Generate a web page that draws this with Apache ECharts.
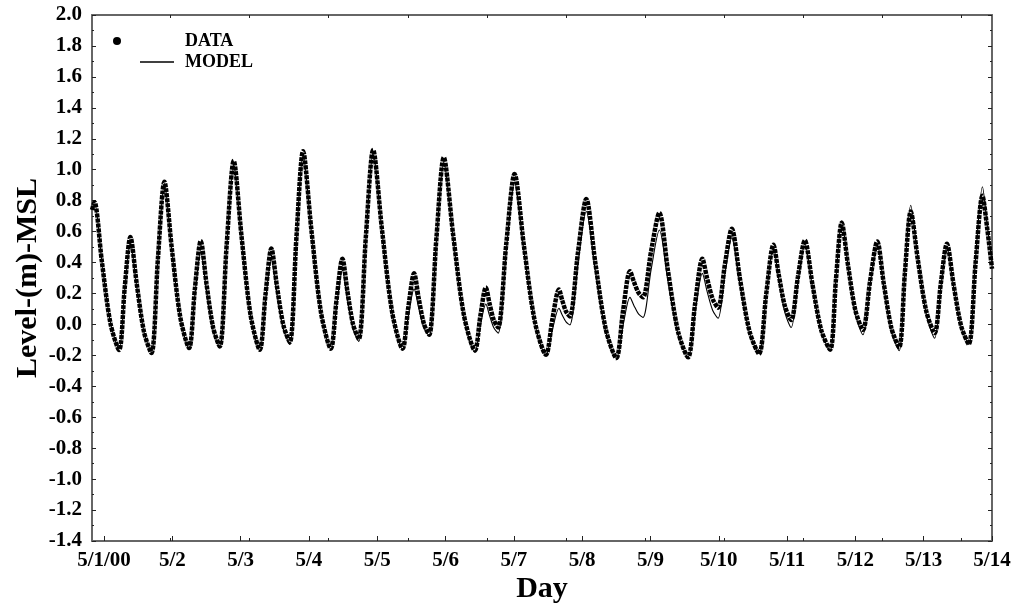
<!DOCTYPE html>
<html><head><meta charset="utf-8">
<script src="https://cdn.jsdelivr.net/npm/echarts@6/dist/echarts.min.js"></script>
<style>html,body{margin:0;padding:0;background:#fff}#c{width:1016px;height:609px}</style>
</head><body><div id="c"></div>
<script>
// Tick positions (days since 5/1/00 00:00) and labels
const dayTicks = [0,1,2,3,4,5,6,7,8,9,10,11,12,13];
const dayLabels = ['5/1/00','5/2','5/3','5/4','5/5','5/6','5/7','5/8','5/9','5/10','5/11','5/12','5/13','5/14'];
const extraTicks = [0.976,2.133,3.29,4.447,5.604,6.76,7.917,9.074,10.23,11.39,12.545];

// Time (days since 5/1/00 00:00)
const time = [-0.176,-0.14,-0.032,0.094,0.22,0.303,0.386,0.478,0.586,0.694,0.789,0.884,0.992,1.119,1.245,1.33,1.416,1.499,1.597,1.694,1.796,1.899,2.013,2.147,2.28,2.365,2.45,2.531,2.626,2.72,2.817,2.914,3.036,3.178,3.32,3.405,3.49,3.562,3.646,3.73,3.835,3.94,4.069,4.22,4.37,4.455,4.54,4.606,4.683,4.76,4.867,4.974,5.111,5.27,5.43,5.51,5.59,5.644,5.707,5.77,5.89,6.01,6.148,6.309,6.47,6.565,6.66,6.708,6.764,6.82,6.94,7.06,7.192,7.346,7.50,7.60,7.70,7.757,7.824,7.89,8.01,8.13,8.256,8.403,8.55,8.655,8.76,8.829,8.91,8.99,9.09,9.19,9.31,9.45,9.59,9.695,9.80,9.878,9.969,10.06,10.16,10.26,10.371,10.5,10.63,10.715,10.80,10.893,11.0,11.11,11.215,11.32,11.416,11.528,11.64,11.725,11.81,11.915,12.038,12.16,12.25,12.34,12.436,12.548,12.66,12.76,12.86,12.93,13.0];

// Observed water level (m, MSL)
const dataLevel = [0.74,0.79,0.408,0.007,-0.165,0.237,0.565,0.265,-0.05,-0.185,0.424,0.922,0.492,0.04,-0.153,0.228,0.539,0.266,-0.02,-0.143,0.517,1.057,0.569,0.056,-0.164,0.196,0.49,0.248,-0.006,-0.115,0.564,1.12,0.609,0.073,-0.157,0.163,0.425,0.217,0.0,-0.094,0.578,1.128,0.614,0.074,-0.157,0.111,0.33,0.171,0.004,-0.067,0.563,1.079,0.58,0.057,-0.168,0.056,0.239,0.135,0.027,-0.02,0.526,0.972,0.505,0.014,-0.196,0.036,0.226,0.156,0.083,0.051,0.469,0.811,0.40,-0.032,-0.217,0.092,0.344,0.276,0.205,0.175,0.475,0.721,0.347,-0.045,-0.213,0.138,0.425,0.298,0.165,0.108,0.388,0.618,0.295,-0.045,-0.19,0.198,0.515,0.32,0.116,0.028,0.311,0.543,0.26,-0.037,-0.164,0.288,0.657,0.38,0.09,-0.035,0.279,0.536,0.262,-0.025,-0.148,0.335,0.73,0.416,0.085,-0.056,0.262,0.522,0.262,-0.01,-0.127,0.40,0.832,0.62,0.36];

// Modelled water level (m, MSL)
const modelLevel = [0.74,0.79,0.41,0.011,-0.16,0.22,0.53,0.246,-0.052,-0.18,0.42,0.91,0.482,0.033,-0.16,0.19,0.47,0.222,-0.038,-0.15,0.50,1.03,0.55,0.046,-0.17,0.155,0.42,0.20,-0.031,-0.13,0.547,1.10,0.596,0.067,-0.16,0.12,0.35,0.166,-0.027,-0.11,0.561,1.11,0.602,0.069,-0.16,0.055,0.23,0.108,-0.02,-0.075,0.544,1.05,0.558,0.041,-0.18,-0.008,0.132,0.057,-0.022,-0.056,0.481,0.92,0.472,0.002,-0.20,-0.033,0.104,0.061,0.016,-0.003,0.40,0.73,0.35,-0.049,-0.22,-0.003,0.175,0.123,0.068,0.045,0.356,0.61,0.282,-0.062,-0.21,0.087,0.33,0.214,0.092,0.04,0.326,0.56,0.26,-0.055,-0.19,0.19,0.50,0.292,0.074,-0.02,0.277,0.52,0.244,-0.046,-0.17,0.292,0.67,0.375,0.066,-0.067,0.256,0.52,0.244,-0.046,-0.17,0.347,0.77,0.426,0.066,-0.089,0.235,0.50,0.248,-0.017,-0.13,0.431,0.89,0.64,0.40];

const FONT = 'Liberation Serif';
const AXIS_COLOR = '#666';
const X_MIN = -0.176, X_MAX = 13;

const chart = echarts.init(document.getElementById('c'), null, {renderer: 'canvas'});

const baseX = {
  type: 'value', min: X_MIN, max: X_MAX,
  splitLine: {show: false},
  axisLine: {show: false, onZero: false},
  axisLabel: {show: false}
};

chart.setOption({
  animation: false,
  backgroundColor: '#fff',
  grid: {left: 92, right: 24, top: 15, bottom: 65.5, containLabel: false},
  legend: [
    {
      data: [{name: 'DATA', icon: 'circle'}],
      left: 113, top: 32, padding: 0, itemWidth: 8, itemHeight: 8, selectedMode: false,
      formatter: n => '{g| }{t|' + n + '}',
      textStyle: {rich: {g: {width: 59}, t: {fontSize: 18, fontWeight: 'bold', fontFamily: FONT, color: '#000'}}}
    },
    {
      data: [{name: 'MODEL', icon: 'rect'}],
      left: 140, top: 53, padding: 0, itemWidth: 34, itemHeight: 1.3, selectedMode: false,
      formatter: n => '{g| }{t|' + n + '}',
      textStyle: {rich: {g: {width: 6}, t: {fontSize: 18, fontWeight: 'bold', fontFamily: FONT, color: '#000'}}}
    }
  ],
  xAxis: [
    Object.assign({}, baseX, {
      position: 'bottom',
      axisLine: {show: true, onZero: false, lineStyle: {color: AXIS_COLOR, width: 2}},
      axisTick: {show: true, inside: true, length: 5, customValues: dayTicks, lineStyle: {color: '#222', width: 1}},
      axisLabel: {
        show: true, customValues: dayTicks, margin: 9,
        fontSize: 21, fontWeight: 'bold', fontFamily: FONT, color: '#000',
        formatter: v => dayLabels[dayTicks.indexOf(Math.round(v))]
      },
      name: 'Day', nameLocation: 'middle', nameGap: 33, nameMoveOverlap: false,
      nameTextStyle: {fontSize: 30, fontWeight: 'bold', fontFamily: FONT, color: '#000'}
    }),
    Object.assign({}, baseX, {
      position: 'bottom',
      axisTick: {show: true, inside: true, length: 3, customValues: extraTicks, lineStyle: {color: '#222', width: 1}}
    }),
    Object.assign({}, baseX, {
      position: 'top',
      axisLine: {show: true, onZero: false, lineStyle: {color: AXIS_COLOR, width: 2}},
      axisTick: {show: true, inside: true, length: 3, customValues: extraTicks, lineStyle: {color: '#222', width: 1}}
    })
  ],
  yAxis: [
    {
      type: 'value', position: 'left', min: -1.4, max: 2.0, interval: 0.2,
      splitLine: {show: false},
      axisLine: {show: true, onZero: false, lineStyle: {color: AXIS_COLOR, width: 2}},
      axisTick: {show: true, inside: true, length: 4, lineStyle: {color: '#222', width: 1}},
      minorTick: {show: true, splitNumber: 2, length: 2, lineStyle: {color: '#222', width: 1}},
      axisLabel: {
        margin: 10, fontSize: 21, fontWeight: 'bold', fontFamily: FONT, color: '#000',
        formatter: v => (Math.abs(v) < 1e-9 ? 0 : v).toFixed(1)
      },
      name: 'Level-(m)-MSL', nameLocation: 'middle', nameRotate: 90, nameGap: 49, nameMoveOverlap: false,
      nameTextStyle: {fontSize: 30, fontWeight: 'bold', fontFamily: FONT, color: '#000'}
    },
    {
      type: 'value', position: 'right', min: -1.4, max: 2.0, interval: 0.2,
      splitLine: {show: false},
      axisLine: {show: true, onZero: false, lineStyle: {color: AXIS_COLOR, width: 2}},
      axisTick: {show: true, inside: true, length: 4, lineStyle: {color: '#222', width: 1}},
      minorTick: {show: true, splitNumber: 2, length: 2, lineStyle: {color: '#222', width: 1}},
      axisLabel: {show: false}
    }
  ],
  series: [
    {
      name: 'DATA', type: 'line', xAxisIndex: 0, yAxisIndex: 0,
      data: time.map((t, i) => [t, dataLevel[i]]),
      showSymbol: false, symbol: 'none', smooth: 0.3, clip: true,
      itemStyle: {color: '#000'},
      lineStyle: {color: '#000', width: 4.5, type: [4, 1]},
      z: 2
    },
    {
      name: 'MODEL', type: 'line', xAxisIndex: 0, yAxisIndex: 0,
      data: time.map((t, i) => [t, modelLevel[i]]),
      showSymbol: false, symbol: 'none', smooth: 0.3, clip: true,
      itemStyle: {color: '#000'},
      lineStyle: {color: '#000', width: 1.1},
      z: 3
    }
  ]
});
</script>
</body></html>
